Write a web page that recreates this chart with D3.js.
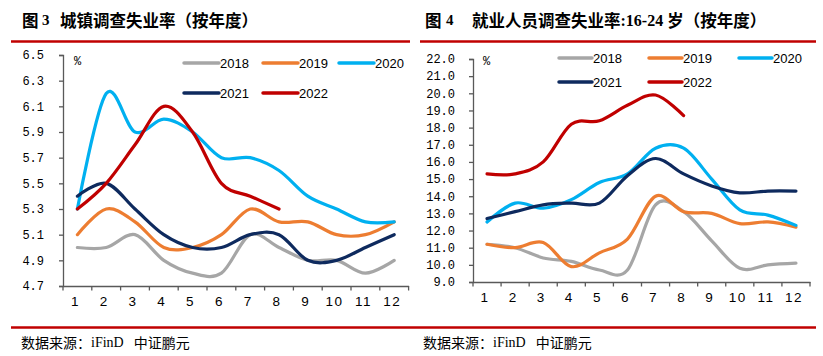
<!DOCTYPE html>
<html><head><meta charset="utf-8">
<script src="https://cdn.jsdelivr.net/npm/d3@7/dist/d3.min.js"></script>
<style>
body{margin:0;background:#fff;}
svg{display:block;}
</style></head>
<body><svg id="c" width="823" height="356"></svg>
<script>
// ---------- data ----------
const months = ["1","2","3","4","5","6","7","8","9","10","11","12"];
const years = ["2018","2019","2020","2021","2022"];
const colors = ["#A6A6A6","#ED7D31","#00B0F0","#0E2A5E","#C00000"];

// Chart 3: urban surveyed unemployment rate (%)
const urban2018 = [5.0,5.0,5.1,4.9,4.8,4.8,5.1,5.0,4.9,4.9,4.8,4.9];
const urban2019 = [5.1,5.3,5.2,5.0,5.0,5.1,5.3,5.2,5.2,5.1,5.1,5.2];
const urban2020 = [5.3,6.2,5.9,6.0,5.9,5.7,5.7,5.6,5.4,5.3,5.2,5.2];
const urban2021 = [5.4,5.5,5.3,5.1,5.0,5.0,5.1,5.1,4.9,4.9,5.0,5.1];
const urban2022 = [5.3,5.5,5.8,6.1,5.9,5.5,5.4,5.3];
const urbanTicks = ["6.5","6.3","6.1","5.9","5.7","5.5","5.3","5.1","4.9","4.7"];

// Chart 4: 16-24 surveyed unemployment rate (%)
const youth2018 = [11.2,11.0,10.4,10.2,9.7,9.7,13.5,13.1,11.4,9.8,10.0,10.1];
const youth2019 = [11.2,11.0,11.3,9.9,10.7,11.5,14.0,13.1,13.0,12.4,12.5,12.2];
const youth2020 = [12.5,13.6,13.3,13.8,14.8,15.3,16.8,16.8,15.0,13.2,12.9,12.3];
const youth2021 = [12.7,13.1,13.5,13.6,13.6,15.2,16.2,15.3,14.6,14.2,14.3,14.3];
const youth2022 = [15.3,15.3,16.0,18.2,18.4,19.3,19.9,18.7];
const youthTicks = ["22.0","21.0","20.0","19.0","18.0","17.0","16.0","15.0","14.0","13.0","12.0","11.0","10.0","9.0"];

const svg = d3.select("#c");
const CJK = "'Noto Sans CJK SC', sans-serif";

function drawChart(cfg){
  const g = svg.append("g");
  // title
  const t = g.append("text").attr("y", cfg.titleY).attr("dominant-baseline","central")
    .attr("font-weight","bold").attr("fill","#000");
  t.append("tspan").attr("x", cfg.titleX).attr("font-family",CJK).attr("font-size","16.5px").text("图");
  t.append("tspan").attr("x", cfg.numX).attr("font-family","'Liberation Serif', serif").attr("font-size","15px").text(cfg.num);
  cfg.titleParts.forEach((p,i)=>{
    const ts = t.append("tspan").attr("font-family", p.serif ? "'Liberation Serif', serif" : CJK)
      .attr("font-size", p.serif ? "16px" : "16.5px").text(p.t);
    if(i===0) ts.attr("x", cfg.mainX);
  });
  // red rule under title
  g.append("line").attr("x1",cfg.ruleX1).attr("x2",cfg.ruleX2).attr("y1",41.5).attr("y2",41.5)
    .attr("stroke","#C00000").attr("stroke-width",2.6);

  const x = d3.scaleBand().domain(months).range([cfg.x0,cfg.x1]);
  const y = d3.scaleLinear().domain(cfg.domain).range([cfg.yBot,cfg.yTop]);

  // y axis
  const yAxis = d3.axisLeft(y).tickValues(cfg.ticks.map(Number)).tickSize(4).tickPadding(cfg.yPad)
    .tickFormat((d,i)=>cfg.ticks[i]);
  const ya = g.append("g").attr("transform",`translate(${cfg.x0},0)`).call(yAxis);
  ya.select(".domain").attr("stroke","#595959").attr("stroke-width",1.3);
  ya.selectAll(".tick line").attr("stroke","#595959").attr("stroke-width",1.3);
  ya.selectAll(".tick text").attr("font-family","'Liberation Mono', monospace").attr("font-size","12px").attr("fill","#000");

  // x axis
  const xa = g.append("g").attr("transform",`translate(0,${cfg.yBot})`)
    .call(d3.axisBottom(x).tickSize(0).tickPadding(10));
  xa.select(".domain").attr("stroke","#595959").attr("stroke-width",1.3);
  xa.selectAll(".tick text").attr("font-family","'Liberation Sans', Arial, sans-serif").attr("font-size","13.5px")
    .attr("fill","#000").attr("letter-spacing","1.5px").attr("dx","-2");
  // boundary ticks
  const bounds = d3.range(months.length+1).map(i=>cfg.x0 + i*x.step());
  g.selectAll(null).data(bounds).enter().append("line")
    .attr("x1",d=>d).attr("x2",d=>d).attr("y1",cfg.yBot).attr("y2",cfg.yBot+4.5)
    .attr("stroke","#595959").attr("stroke-width",1.3);

  // % label
  g.append("text").attr("x",cfg.pctX).attr("y",62).attr("dominant-baseline","central")
    .attr("font-family","'Liberation Mono', monospace").attr("font-size","12px").attr("fill","#000").text("%");

  // lines
  const line = d3.line().x((d,i)=>x(months[i]) + x.bandwidth()/2).y(d=>y(d))
    .curve(d3.curveCardinal.tension(0));
  cfg.series.forEach((s,k)=>{
    g.append("path").datum(s).attr("d",line).attr("fill","none")
      .attr("stroke",colors[k]).attr("stroke-width",3.2).attr("stroke-linecap","round").attr("stroke-linejoin","round");
  });

  // legend
  years.forEach((yr,k)=>{
    const col = k<3 ? k : k-3;
    const row = k<3 ? 0 : 1;
    const lx = cfg.legX[col], ly = cfg.legY[row];
    g.append("line").attr("x1",lx).attr("x2",lx+cfg.legLen).attr("y1",ly).attr("y2",ly)
      .attr("stroke",colors[k]).attr("stroke-width",3.5).attr("stroke-linecap","round");
    g.append("text").attr("x",lx+cfg.legLen+1).attr("y",ly).attr("dominant-baseline","central")
      .attr("font-family","'Liberation Sans', Arial, sans-serif").attr("font-size","13px").attr("fill","#000").text(yr);
  });
}

drawChart({
  titleX:22, numX:42, num:"3", mainX:60, titleY:20,
  titleParts:[{t:"城镇调查失业率（按年度）"}],
  ruleX1:11, ruleX2:410,
  x0:63, x1:408.6, yTop:55, yBot:286, domain:[4.7,6.5], ticks:urbanTicks, yPad:15,
  pctX:74,
  series:[urban2018,urban2019,urban2020,urban2021,urban2022],
  legX:[184,263,339], legY:[63,93], legLen:35
});

drawChart({
  titleX:425, numX:446, num:"4", mainX:472, titleY:20,
  titleParts:[{t:"就业人员调查失业率"},{t:":16-24 ",serif:true},{t:"岁（按年度）"}],
  ruleX1:420, ruleX2:816,
  x0:473, x1:810, yTop:59, yBot:282, domain:[9,22], ticks:youthTicks, yPad:14,
  pctX:483,
  series:[youth2018,youth2019,youth2020,youth2021,youth2022],
  legX:[559,649,739], legY:[58,82], legLen:33
});

// bottom rule and sources
svg.append("line").attr("x1",11).attr("x2",816).attr("y1",327.5).attr("y2",327.5)
  .attr("stroke","#C00000").attr("stroke-width",2.4);
[21,423].forEach(sx=>{
  const t = svg.append("text").attr("x",sx).attr("y",342).attr("dominant-baseline","central")
    .attr("font-size","14px").attr("fill","#000");
  t.append("tspan").attr("font-family",CJK).text("数据来源：");
  t.append("tspan").attr("font-family","'Liberation Serif', serif").text("iFinD");
  t.append("tspan").attr("font-family",CJK).attr("dx","10").text("中证鹏元");
});
</script></body></html>
